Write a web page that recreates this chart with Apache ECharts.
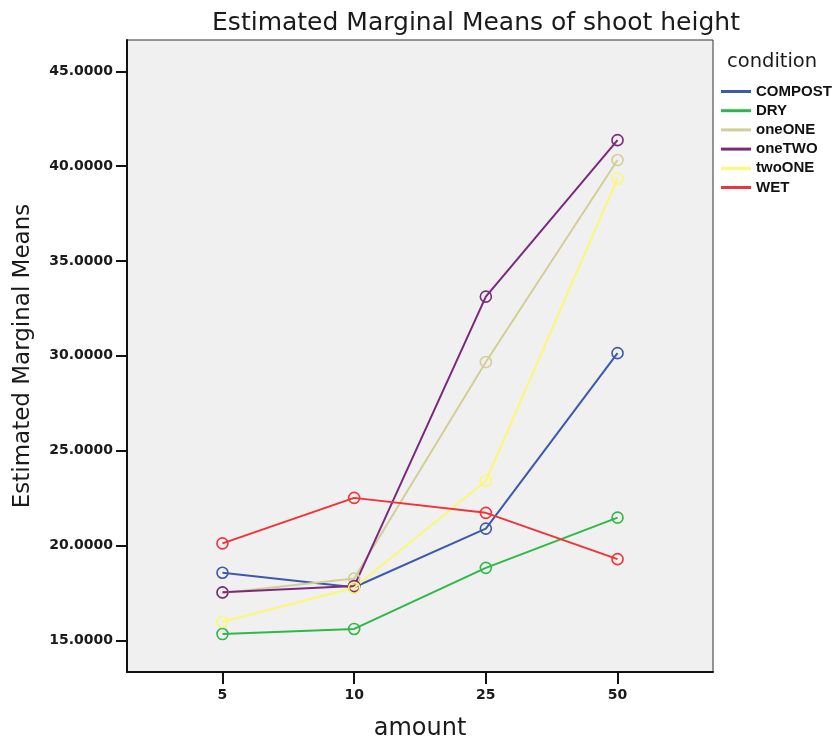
<!DOCTYPE html>
<html>
<head>
<meta charset="utf-8">
<script src="https://cdn.jsdelivr.net/npm/echarts@6/dist/echarts.min.js"></script>
<style>
  html, body { margin: 0; padding: 0; background: #ffffff; }
  #chart { width: 835px; height: 746px; }
</style>
</head>
<body>
<div id="chart"></div>
<script>
// ---- data ----
const amounts = ['5', '10', '25', '50'];
const seriesNames = ['COMPOST', 'DRY', 'oneONE', 'oneTWO', 'twoONE', 'WET'];
const compost = [18.56, 17.80, 20.89, 30.14];
const dry     = [15.33, 15.60, 18.82, 21.47];
const oneONE  = [17.50, 18.26, 29.67, 40.32];
const oneTWO  = [17.53, 17.86, 33.12, 41.37];
const twoONE  = [15.98, 17.77, 23.40, 39.35];
const wet     = [20.11, 22.51, 21.72, 19.28];
const yTicks  = [15, 20, 25, 30, 35, 40, 45];

const seriesValues = [compost, dry, oneONE, oneTWO, twoONE, wet];
const colors = ['#3E58AC', '#2EB848', '#D3CE97', '#7C287D', '#FBF873', '#EF3338'];
const xPositions = amounts.map((a, i) => i + 1);

const chart = echarts.init(document.getElementById('chart'), null, { renderer: 'canvas' });

const series = seriesNames.map((name, k) => ({
  name: name,
  type: 'line',
  data: seriesValues[k].map((v, i) => [xPositions[i], v]),
  symbol: 'circle',
  symbolSize: 11,
  lineStyle: { color: colors[k], width: 2 },
  itemStyle: { color: 'rgba(0,0,0,0)', borderColor: colors[k], borderWidth: 1.6 },
  emphasis: { disabled: true },
  animation: false
}));

const option = {
  animation: false,
  backgroundColor: '#ffffff',
  grid: {
    left: 127, right: 122, top: 40, bottom: 73,
    show: true, backgroundColor: '#f0f0f0', borderColor: '#333', borderWidth: 1
  },
  graphic: [
    {
      type: 'text', x: 476, y: 23,
      style: {
        text: 'Estimated Marginal Means of shoot height',
        font: '25px "DejaVu Sans"', fill: '#1a1a1a',
        textAlign: 'center', textVerticalAlign: 'middle'
      }
    },
    {
      type: 'text', x: 727, y: 62,
      style: {
        text: 'condition',
        font: '19.5px "DejaVu Sans"', fill: '#1a1a1a',
        textAlign: 'left', textVerticalAlign: 'middle'
      }
    }
  ],
  legend: {
    orient: 'vertical',
    left: 716, top: 79,
    itemWidth: 30, itemHeight: 3,
    itemGap: 4.2,
    icon: 'rect',
    selectedMode: false,
    textStyle: { fontFamily: '"Liberation Sans"', fontWeight: 'bold', fontSize: 15, color: '#111', lineHeight: 15, padding: [0, 0, 0, 0] },
    data: seriesNames.map((n, k) => ({ name: n, itemStyle: { color: colors[k], borderWidth: 0 } }))
  },
  xAxis: {
    type: 'value',
    min: 0.275, max: 4.725,
    name: 'amount',
    nameLocation: 'middle',
    nameGap: 45,
    nameTextStyle: { fontFamily: '"DejaVu Sans"', fontSize: 24, color: '#1a1a1a' },
    axisLine: { show: true, onZero: false, lineStyle: { color: '#111', width: 2 } },
    axisTick: { show: true, customValues: xPositions, length: 12, inside: false, lineStyle: { color: '#111', width: 2 } },
    axisLabel: {
      customValues: xPositions,
      formatter: v => amounts[Math.round(v) - 1],
      margin: 16,
      fontFamily: '"DejaVu Sans"', fontWeight: 'bold', fontSize: 14, color: '#1a1a1a'
    },
    splitLine: { show: false }
  },
  yAxis: {
    type: 'value',
    min: 13.33, max: 46.65,
    name: 'Estimated Marginal Means',
    nameLocation: 'middle',
    nameGap: 92,
    nameTextStyle: { fontFamily: '"DejaVu Sans"', fontSize: 23, color: '#1a1a1a' },
    axisLine: { show: true, onZero: false, lineStyle: { color: '#111', width: 2 } },
    axisTick: { show: true, customValues: yTicks, length: 11, inside: false, lineStyle: { color: '#111', width: 2 } },
    axisLabel: {
      customValues: yTicks,
      formatter: v => Number(v).toFixed(4),
      margin: 14,
      fontFamily: '"DejaVu Sans"', fontWeight: 'bold', fontSize: 14, color: '#1a1a1a'
    },
    splitLine: { show: false }
  },
  series: series
};

chart.setOption(option);
</script>
</body>
</html>
